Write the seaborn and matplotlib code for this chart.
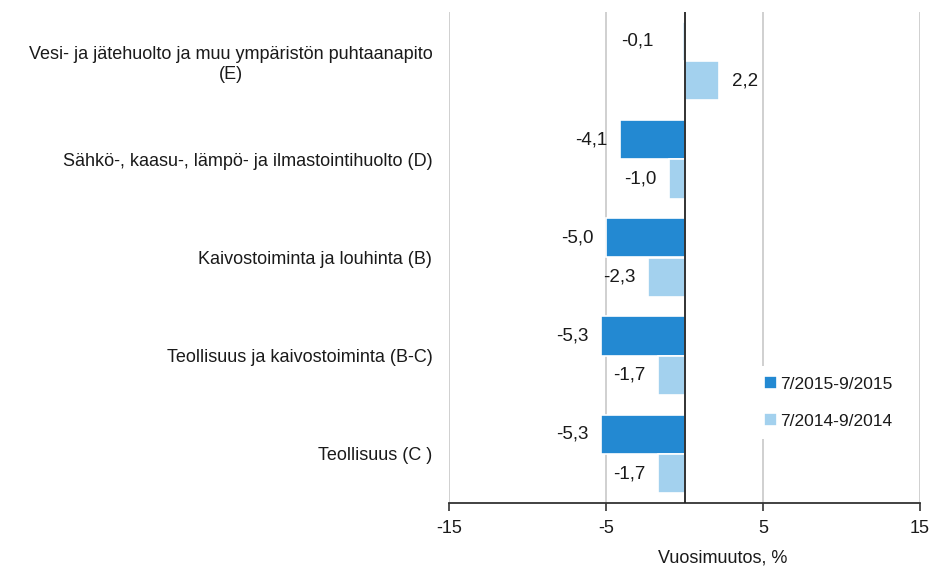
import pandas as pd
import numpy as np
import matplotlib
matplotlib.use("Agg")
import matplotlib.pyplot as plt
import seaborn as sns

# Toimialat ylhäältä alas
categories = [
    "Vesi- ja jätehuolto ja muu ympäristön puhtaanapito\n(E)",
    "Sähkö-, kaasu-, lämpö- ja ilmastointihuolto (D)",
    "Kaivostoiminta ja louhinta (B)",
    "Teollisuus ja kaivostoiminta (B-C)",
    "Teollisuus (C )",
]
periods = ["7/2015-9/2015", "7/2014-9/2014"]
values_2015 = [-0.1, -4.1, -5.0, -5.3, -5.3]
values_2014 = [2.2, -1.0, -2.3, -1.7, -1.7]
x_ticks = [-15, -5, 5, 15]

df = pd.DataFrame({
    "toimiala": categories * 2,
    "jakso": [periods[0]] * len(categories) + [periods[1]] * len(categories),
    "muutos": values_2015 + values_2014,
})

sns.set_theme(style="white")
plt.rcParams['font.family'] = ['Liberation Sans', 'DejaVu Sans']
plt.rcParams['font.size'] = 13
text_col = "#1a1a1a"

fig = plt.figure(figsize=(9.34, 5.7), dpi=100)
ax = fig.add_axes([449 / 934, 1 - 503 / 570, (920 - 449) / 934, (503 - 12) / 570])

palette = {periods[0]: "#2389d2", periods[1]: "#a3d1ee"}
sns.barplot(data=df, y="toimiala", x="muutos", hue="jakso", orient="h",
            palette=palette, width=0.8, edgecolor="white", linewidth=1.2,
            saturation=1, ax=ax, zorder=3)

# arvot pilkulla
for cont in ax.containers:
    labels = [f"{b.get_width():.1f}".replace(".", ",") for b in cont]
    texts = ax.bar_label(cont, labels=labels, padding=9, fontsize=13.5, color=text_col)
    for t, b in zip(texts, cont):
        if abs(b.get_width()) < 0.5:
            # pieni arvo: nimiö hieman kauemmas nollaviivasta
            t.xyann = (t.xyann[0] - 12, t.xyann[1])

ax.set_xlim(-15, 15)
ax.set_xticks(x_ticks)
ax.set_xticklabels([str(t) for t in x_ticks], color=text_col)
ax.tick_params(axis="x", length=6, width=1.2, color="#333333", direction="out",
               bottom=True, pad=6, labelsize=13)
ax.tick_params(axis="y", length=0, pad=12, labelsize=13, labelcolor=text_col)
for lab in ax.get_yticklabels():
    lab.set_multialignment("center")

ax.grid(axis="x", color="#c8c8c8", linewidth=1.2, zorder=0)
ax.grid(axis="y", visible=False)
ax.axvline(0, color="#222222", linewidth=1.3, zorder=4)

for s in ["top", "right", "left"]:
    ax.spines[s].set_visible(False)
ax.spines["bottom"].set_color("#333333")
ax.spines["bottom"].set_linewidth(1.3)

ax.set_ylabel("")
ax.set_xlabel("Vuosimuutos, %", fontsize=13, color=text_col)
ax.xaxis.set_label_coords(0.582, -0.095)

leg = ax.legend(loc="upper left", bbox_to_anchor=(0.628, 0.297), frameon=True,
                facecolor="white", edgecolor="none", framealpha=1,
                handlelength=0.75, handleheight=0.75, handletextpad=0.2,
                labelspacing=1.25, fontsize=12.5, borderpad=0.6)
leg.set_zorder(5)
for t in leg.get_texts():
    t.set_color(text_col)

fig.savefig("out.png", dpi=100)
